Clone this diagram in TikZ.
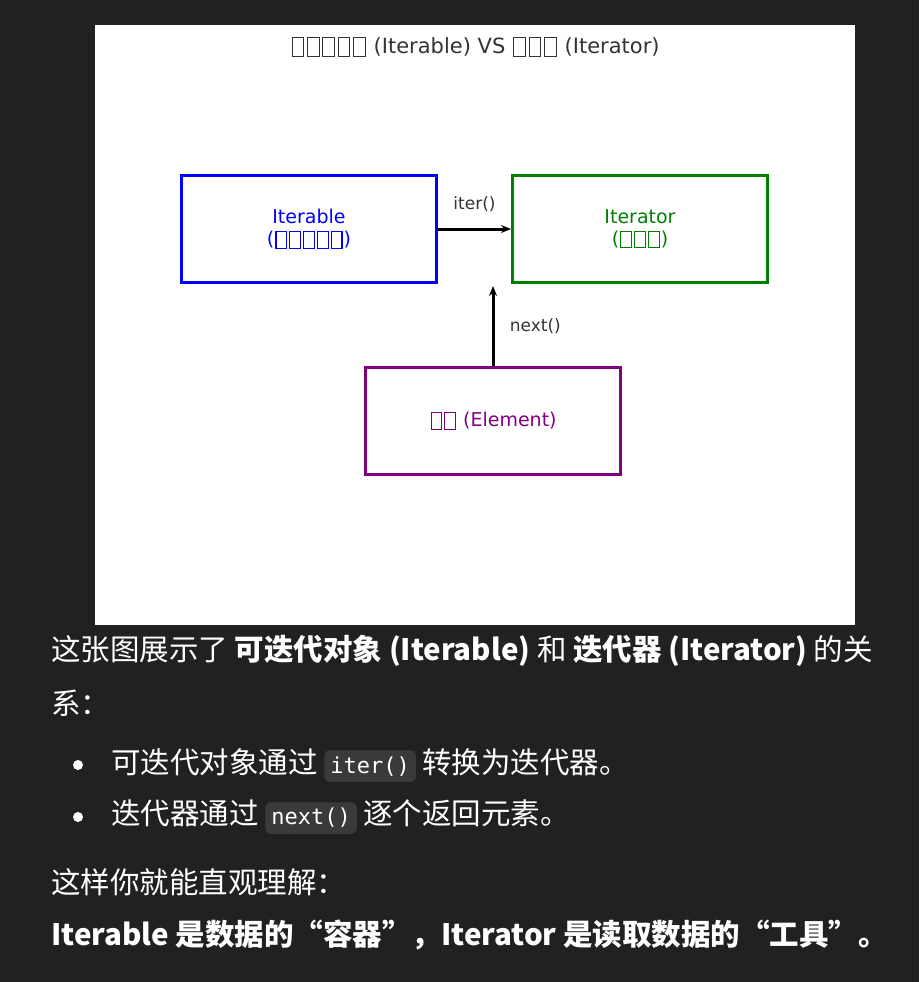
\documentclass[tikz,border=0pt]{standalone}
\usepackage{fontspec}
\setmainfont{DejaVu Sans}
\newfontfamily\cjk{Noto Sans CJK SC}
\newfontfamily\cjkmono{DejaVu Sans Mono}
\usetikzlibrary{arrows.meta}
\definecolor{bg}{HTML}{212121}
\definecolor{codebg}{HTML}{3A3A3A}
\definecolor{ttl}{HTML}{333333}
\definecolor{grn}{HTML}{008000}
\definecolor{prp}{HTML}{800080}
\newcommand{\tf}{{\setlength\fboxsep{0pt}\setlength\fboxrule{0.055em}\kern0.06em\raisebox{-0.1em}{\fbox{\rule{0pt}{0.82em}\hspace{0.5em}}}\kern0.06em}}
\begin{document}
\begin{tikzpicture}[x=1pt,y=-1pt,
  box/.style={draw,line width=3pt,minimum width=255pt,minimum height=107pt,align=center,font=\fontsize{19}{22}\selectfont},
  arr/.style={-{Stealth[length=10pt,width=8pt]},line width=3pt,draw=black},
  lbl/.style={text=ttl,font=\fontsize{17}{20}\selectfont},
  para/.style={text=white,anchor=west,inner sep=0pt,font=\cjk\fontsize{29.5}{34}\selectfont},
  code/.style={fill=codebg,rounded corners=5pt,text=white,font=\cjkmono\fontsize{22}{26}\selectfont,inner sep=6pt},
  bul/.style={fill=white,circle,inner sep=0pt,minimum size=10pt}]
\useasboundingbox (0,0) rectangle (919,982);
\fill[bg] (0,0) rectangle (919,982);
\fill[white] (95,25) rectangle (855,625);
\node[text=ttl,font=\fontsize{21}{24}\selectfont] (title) at (475,47) {\tf\tf\tf\tf\tf{} (Iterable) VS \tf\tf\tf{} (Iterator)};
\node[box,draw=blue,text=blue] (a) at (309,229) {Iterable\\(\tf\tf\tf\tf\tf)};
\node[box,draw=grn,text=grn] (b) at (640,229) {Iterator\\(\tf\tf\tf)};
\node[box,draw=prp,text=prp] (c) at (493,421) {\tf\tf{} (Element)};
\draw[arr] (a.east) -- (b.west) node[lbl,midway,above=12pt] {iter()};
\coordinate (bt) at (493,286);
\draw[arr] (c.north) -- (bt) node[lbl,midway,right=12pt] {next()};
\node[para] (p1) at (51,651) {这张图展示了 \textbf{可迭代对象 (Iterable)} 和 \textbf{迭代器 (Iterator)} 的关};
\node[para] (p2) at (51,703) {系：};
\node[bul] (b1) at (78,765) {};
\node[bul] (b2) at (78,817) {};
\node[para] (l1) at (111,765) {可迭代对象通过 \tikz[baseline=(x.base)]\node[code](x){iter()}; 转换为迭代器。};
\node[para] (l2) at (111,817) {迭代器通过 \tikz[baseline=(x.base)]\node[code](x){next()}; 逐个返回元素。};
\node[para] (p3) at (51,882) {这样你就能直观理解：};
\node[para,font=\cjk\bfseries\fontsize{29.5}{34}\selectfont] (p4) at (51,935) {Iterable 是数据的“容器”，Iterator 是读取数据的“工具”。};
\end{tikzpicture}
\end{document}
